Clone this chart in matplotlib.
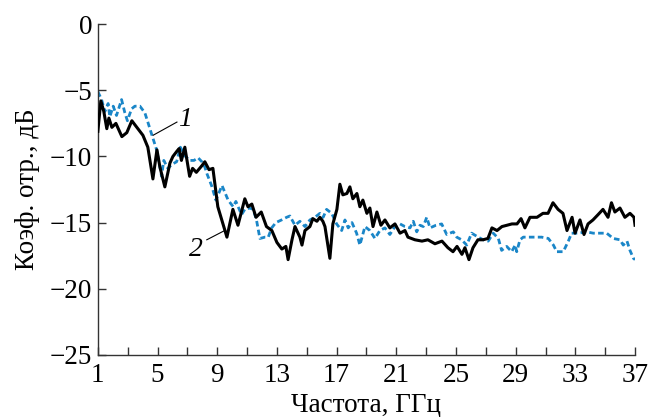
import numpy as np
import matplotlib
matplotlib.use('Agg')
import matplotlib.pyplot as plt

plt.rcParams['font.family'] = ['Liberation Serif', 'DejaVu Serif']

# Кривая 1 (сплошная чёрная)
f1 = [1.00, 1.20, 1.40, 1.60, 1.74, 1.94, 2.21, 2.61, 2.94, 3.28, 3.48, 4.02, 4.35, 4.69,
      4.96, 5.16, 5.49, 5.83, 6.03, 6.30, 6.45, 6.60, 6.83, 7.15, 7.35, 7.60, 7.97, 8.17,
      8.45, 8.71, 9.04, 9.65, 10.05, 10.39, 10.85, 11.06, 11.32, 11.60, 11.95, 12.30, 12.66,
      13.00, 13.33, 13.60, 13.75, 14.01, 14.21, 14.54, 14.68, 14.88, 15.21, 15.41, 15.68,
      15.88, 16.08, 16.22, 16.55, 16.75, 17.02, 17.22, 17.42, 17.69, 17.89, 18.09, 18.36,
      18.56, 18.76, 19.03, 19.23, 19.44, 19.70, 19.97, 20.24, 20.57, 20.91, 21.25, 21.58,
      21.78, 22.25, 22.72, 23.12, 23.59, 24.06, 24.46, 24.80, 25.07, 25.40, 25.60, 25.87,
      26.14, 26.47, 26.81, 27.14, 27.41, 27.75, 28.08, 28.42, 28.75, 29.09, 29.36, 29.62,
      29.96, 30.43, 30.83, 31.17, 31.50, 31.84, 32.17, 32.44, 32.78, 32.98, 33.31, 33.58,
      33.85, 34.18, 34.52, 34.85, 35.19, 35.42, 35.65, 35.99, 36.32, 36.66, 36.93, 37.00]
s1 = [-8.1, -5.8, -6.6, -7.9, -7.1, -7.8, -7.5, -8.5, -8.2, -7.3, -7.6, -8.4, -9.3, -11.7,
      -9.5, -10.8, -12.3, -10.5, -10.0, -9.6, -9.4, -10.3, -9.3, -11.5, -10.9, -11.2, -10.7, -10.4,
      -11.0, -10.9, -13.8, -16.1, -14.0, -15.2, -13.2, -13.8, -13.6, -14.6, -14.2, -15.3, -15.6,
      -16.5, -17.0, -16.8, -17.8, -16.3, -15.3, -16.1, -16.7, -15.6, -15.3, -14.7, -14.9,
      -14.6, -14.9, -15.3, -17.7, -15.1, -14.0, -12.1, -12.9, -12.8, -12.3, -13.2, -12.8,
      -13.8, -13.3, -14.3, -13.9, -15.3, -14.2, -15.2, -14.8, -15.4, -15.1, -15.8, -15.6,
      -16.1, -16.3, -16.4, -16.3, -16.6, -16.4, -16.9, -17.2, -16.8, -17.4, -16.9, -17.8,
      -16.9, -16.3, -16.3, -16.2, -15.4, -15.6, -15.3, -15.2, -15.1, -15.1, -14.7, -15.4,
      -14.6, -14.6, -14.3, -14.3, -13.5, -14.0, -14.3, -15.6, -14.6, -15.8, -14.8, -15.9,
      -15.1, -14.8, -14.4, -14.0, -14.6, -13.5, -14.2, -13.9, -14.6, -14.3, -14.6, -15.2]

# Кривая 2 (синяя пунктирная)
f2 = [1.00, 1.25, 1.47, 1.69, 1.80, 2.03, 2.25, 2.59, 2.81, 2.98, 3.26, 3.48, 3.82, 4.15,
      4.35, 4.60, 4.94, 5.16, 5.27, 5.42, 5.69, 5.96, 6.28, 6.53, 6.87, 7.17, 7.44, 7.72,
      7.97, 8.17, 8.31, 8.62, 8.91, 9.32, 9.73, 10.07, 10.25, 10.63, 10.85, 11.19, 11.41,
      11.63, 11.86, 12.20, 12.42, 12.65, 12.93, 13.31, 13.65, 13.87, 14.21, 14.54, 14.88,
      15.21, 15.55, 15.88, 16.10, 16.33, 16.67, 17.00, 17.34, 17.56, 17.78, 18.03, 18.34,
      18.56, 18.90, 19.23, 19.57, 19.90, 20.24, 20.57, 20.91, 21.25, 21.58, 21.92, 22.14,
      22.37, 22.59, 22.81, 23.04, 23.26, 23.66, 24.04, 24.38, 24.82, 25.05, 25.38, 25.72,
      26.05, 26.49, 26.83, 27.16, 27.50, 27.84, 28.06, 28.40, 28.73, 28.97, 29.07, 29.29,
      29.51, 29.74, 30.30, 30.74, 31.19, 31.53, 31.75, 32.19, 32.53, 32.75, 33.20, 33.76,
      34.20, 34.65, 35.10, 35.54, 35.99, 36.21, 36.46, 36.66, 36.89, 37.00]
s2 = [-5.1, -5.7, -6.6, -6.0, -7.0, -6.2, -6.9, -5.7, -6.7, -7.3, -6.4, -6.2, -6.2, -6.7,
      -7.4, -8.3, -9.5, -10.8, -11.5, -10.3, -10.9, -10.6, -10.4, -9.3, -10.0, -10.3, -10.3, -10.1,
      -10.4, -10.8, -11.3, -12.2, -13.3, -12.2, -13.3, -13.8, -13.4, -14.4, -14.0, -13.9, -14.0,
      -14.8, -16.2, -16.1, -16.1, -15.4, -15.0, -14.8, -14.6, -14.5, -15.2, -14.9, -15.3,
      -14.8, -14.6, -14.3, -14.6, -14.0, -14.3, -15.1, -15.6, -14.8, -15.4, -15.0, -15.8,
      -16.7, -15.3, -15.6, -16.2, -15.6, -15.4, -15.9, -15.3, -15.1, -15.3, -15.4, -14.9,
      -15.7, -15.2, -15.3, -14.6, -15.4, -15.2, -15.1, -15.9, -15.7, -16.1, -16.3, -16.7,
      -15.8, -16.1, -16.3, -16.4, -15.8, -16.2, -17.1, -16.8, -17.2, -16.7, -17.2, -16.3,
      -16.1, -16.1, -16.1, -16.1, -16.2, -16.7, -17.2, -17.2, -16.4, -15.8, -15.8, -15.7,
      -15.8, -15.8, -15.8, -16.2, -16.3, -16.7, -16.4, -17.1, -17.7, -17.8]

xticks = [1, 5, 9, 13, 17, 21, 25, 29, 33, 37]
yticks = [0, -5, -10, -15, -20, -25]

fig = plt.figure(figsize=(6.48, 4.17), dpi=100)
ax = fig.add_axes([0.151, 0.149, 0.829, 0.793])

ax.plot(f2, s2, color='#1a86c8', lw=2.0, ls=(0, (2.0, 1.2)), zorder=2)
ax.plot(f1, s1, color='black', lw=2.2, zorder=3)

ax.set_xlim(1, 37)
ax.set_ylim(-25, 0)
ax.set_xticks(xticks)
ax.set_xticks(np.arange(3, 37, 4), minor=True)
ax.set_yticks(yticks)
ax.set_yticklabels(['0', '\u22125', '\u221210', '\u221215', '\u221220', '\u221225'])
ax.tick_params(which='both', direction='in', length=6, width=1, labelsize=19.5,
               color='#333333')
ax.tick_params(axis='x', pad=6)
ax.tick_params(axis='y', pad=4)

for side in ['top', 'right']:
    ax.spines[side].set_visible(False)
for side in ['left', 'bottom']:
    ax.spines[side].set_color('#333333')
    ax.spines[side].set_linewidth(1)

ax.set_xlabel('Частота, ГГц', fontsize=19.5, labelpad=3)
ax.set_ylabel('Коэф. отр., дБ', fontsize=19.5, labelpad=7)

# подписи кривых
ax.plot([4.7, 6.3], [-8.4, -7.4], color='black', lw=0.8)
ax.text(6.4, -7.2, '1', fontsize=20, style='italic', ha='left', va='center')
ax.plot([9.5, 8.3], [-15.6, -16.3], color='black', lw=0.8)
ax.text(7.6, -17.0, '2', fontsize=20, style='italic', ha='center', va='center')

plt.savefig('out.png', dpi=100)
